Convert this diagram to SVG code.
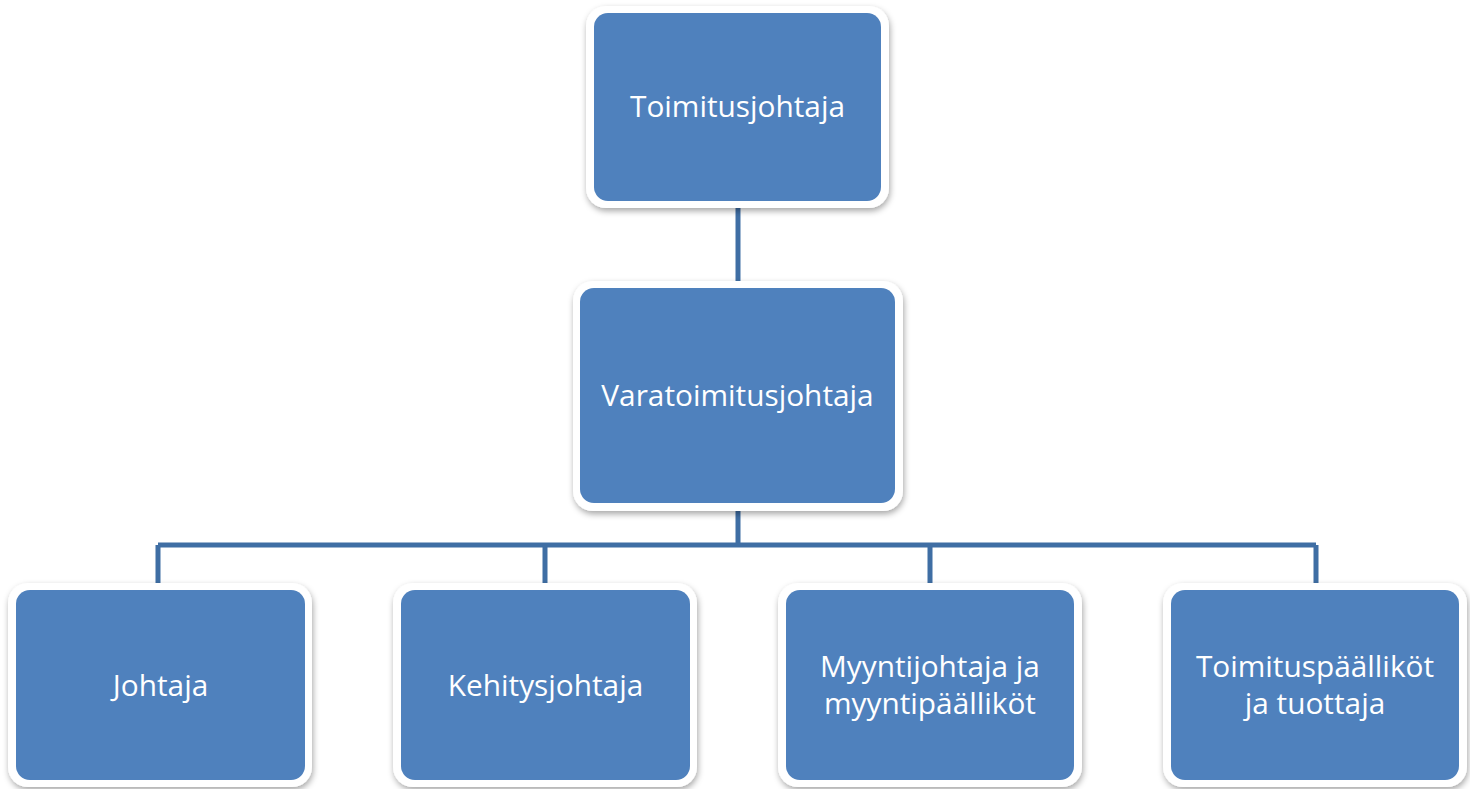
<svg xmlns="http://www.w3.org/2000/svg" width="1470" height="789" viewBox="0 0 1470 789">
<defs>
<filter id="sh" x="-10%" y="-10%" width="120%" height="125%">
<feDropShadow dx="1" dy="3" stdDeviation="3" flood-color="#000" flood-opacity="0.35"/>
</filter>
<style>
.frame{fill:#ffffff;filter:url(#sh)}
.box{fill:#4f81bd}
.lbl{font-family:"Open Sans","Liberation Sans",sans-serif;font-size:29.8px;fill:#ffffff;text-anchor:middle}
.con{stroke:#3f6ea4;stroke-width:5;fill:none}
</style>
</defs>
<rect width="1470" height="789" fill="#ffffff"/>
<g id="connectors">
<path class="con" d="M738 208V281"/>
<path class="con" d="M738 511V545M158 545H1316M158 545V583M545 545V583M930 545V583M1316 545V583"/>
</g>
<g id="n1">
<rect class="frame" x="586" y="6" width="303" height="202" rx="20"/>
<rect class="box" x="594" y="13" width="287" height="188" rx="14"/>
<text class="lbl" x="737.5" y="117">Toimitusjohtaja</text>
</g>
<g id="n2">
<rect class="frame" x="573" y="281" width="330" height="230" rx="20"/>
<rect class="box" x="580" y="288" width="315" height="215" rx="14"/>
<text class="lbl" x="737.5" y="406">Varatoimitusjohtaja</text>
</g>
<g id="n3">
<rect class="frame" x="8" y="583" width="304" height="204" rx="20"/>
<rect class="box" x="16" y="590" width="289" height="190" rx="14"/>
<text class="lbl" x="160.5" y="696">Johtaja</text>
</g>
<g id="n4">
<rect class="frame" x="393" y="583" width="304" height="204" rx="20"/>
<rect class="box" x="401" y="590" width="289" height="190" rx="14"/>
<text class="lbl" x="545.5" y="696">Kehitysjohtaja</text>
</g>
<g id="n5">
<rect class="frame" x="778" y="583" width="304" height="204" rx="20"/>
<rect class="box" x="786" y="590" width="288" height="190" rx="14"/>
<text class="lbl" x="930" y="677">Myyntijohtaja ja</text>
<text class="lbl" x="930" y="714">myyntipäälliköt</text>
</g>
<g id="n6">
<rect class="frame" x="1163" y="583" width="304" height="204" rx="20"/>
<rect class="box" x="1171" y="590" width="288" height="190" rx="14"/>
<text class="lbl" x="1315" y="677">Toimituspäälliköt</text>
<text class="lbl" x="1315" y="714">ja tuottaja</text>
</g>
</svg>
